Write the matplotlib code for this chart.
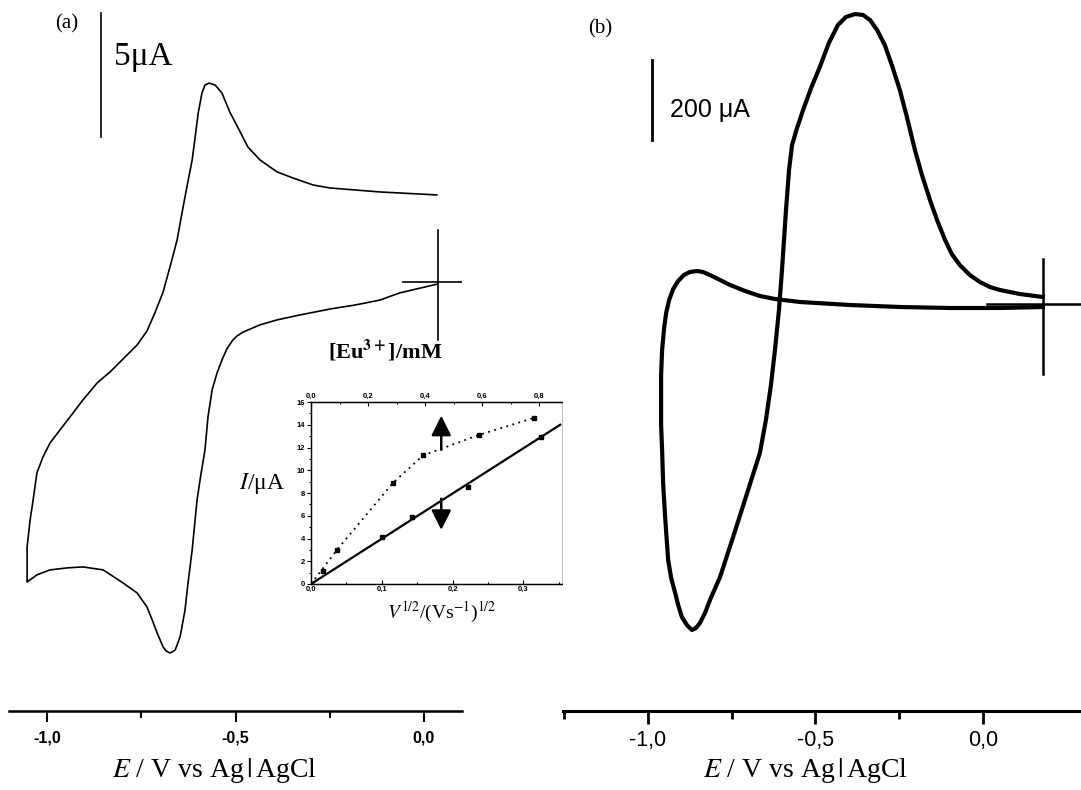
import numpy as np
import matplotlib
matplotlib.use('Agg')
import matplotlib.pyplot as plt
from matplotlib.ticker import FixedLocator, MultipleLocator, FuncFormatter

plt.rcParams['font.family'] = ['Liberation Serif', 'DejaVu Serif']
plt.rcParams['mathtext.fontset'] = 'stix'

# (a) cyclic voltammogram, E in V, I in uA (path order: start -> cathodic -> vertex -> anodic -> end)
E_a = [0.037, -0.064, -0.117, -0.183, -0.249, -0.329, -0.390, -0.435, -0.480, -0.496,
       -0.507, -0.523, -0.536, -0.549, -0.562, -0.573, -0.581, -0.592, -0.602, -0.615,
       -0.626, -0.634, -0.647, -0.660, -0.668, -0.674, -0.684, -0.692, -0.708, -0.721,
       -0.735, -0.761, -0.798, -0.851, -0.905, -0.947, -0.992, -1.027, -1.053,
       -1.053, -1.045, -1.037, -1.027, -1.011, -0.992, -0.966, -0.939, -0.905, -0.867,
       -0.833, -0.798, -0.761, -0.735, -0.714, -0.692, -0.674, -0.655, -0.642, -0.629,
       -0.615, -0.607, -0.599, -0.589, -0.581, -0.570, -0.554, -0.536, -0.515, -0.493,
       -0.467, -0.435, -0.390, -0.347, -0.294, -0.249, -0.117, 0.034]
I_a = [-0.08, -0.44, -0.73, -0.93, -1.09, -1.33, -1.53, -1.73, -2.02, -2.18,
       -2.34, -2.70, -3.15, -3.67, -4.35, -5.44, -6.77, -7.78, -8.79, -10.81,
       -12.14, -13.23, -14.31, -14.84, -14.92, -14.96, -14.88, -14.72, -14.15, -13.63,
       -13.10, -12.54, -12.14, -11.61, -11.49, -11.53, -11.61, -11.81, -12.10,
       -10.69, -9.60, -8.79, -7.70, -7.06, -6.49, -5.97, -5.44, -4.76, -4.07,
       -3.63, -3.10, -2.54, -1.98, -1.25, -0.40, 0.60, 1.69, 2.78, 3.83,
       4.92, 5.85, 6.81, 7.62, 7.94, 8.02, 7.94, 7.62, 6.85, 6.21,
       5.44, 4.92, 4.44, 4.19, 3.91, 3.79, 3.63, 3.51]

# (b) cyclic voltammogram, E in V, I in uA
E_b = [0.179, 0.051, -0.099, -0.248, -0.397, -0.546, -0.621, -0.666, -0.710, -0.755,
       -0.785, -0.815, -0.836, -0.854, -0.875, -0.893, -0.910, -0.925, -0.937, -0.946,
       -0.952, -0.958, -0.961, -0.961, -0.961, -0.958, -0.955, -0.949, -0.940, -0.931,
       -0.919, -0.910, -0.899, -0.884, -0.869, -0.857, -0.845, -0.830, -0.815, -0.785,
       -0.746, -0.704, -0.666, -0.648, -0.633, -0.621, -0.609, -0.600, -0.588, -0.579,
       -0.570, -0.555, -0.537, -0.513, -0.487, -0.460, -0.433, -0.409, -0.382, -0.358,
       -0.337, -0.316, -0.293, -0.272, -0.248, -0.227, -0.203, -0.182, -0.158, -0.137,
       -0.113, -0.093, -0.069, -0.039, -0.009, 0.021, 0.051, 0.110, 0.179]
I_b = [-7.5, -10, -10, -7.5, -2.5, 5, 12.5, 20, 32.5, 47.5,
       60, 72.5, 80, 82.5, 80, 72.5, 57.5, 37.5, 10, -22.5,
       -60, -115, -177.5, -240, -302.5, -365, -447.5, -532.5, -640, -685,
       -722.5, -752.5, -782.5, -802.5, -815, -810, -797.5, -772.5, -740, -682.5,
       -582.5, -472.5, -372.5, -290, -202.5, -115, -15, 85, 235, 335,
       397.5, 440, 485, 540, 592.5, 652.5, 697.5, 717.5, 725, 722.5,
       710, 685, 647.5, 597.5, 535, 467.5, 385, 322.5, 260, 210,
       160, 125, 97.5, 72.5, 55, 42.5, 35, 25, 17.5]

# inset: peak current vs sqrt(scan rate) and vs concentration
v_half = [0.017, 0.100, 0.143, 0.222, 0.325]
I_v = [1.14, 4.13, 5.90, 8.50, 12.90]
v_fit = [0.0, 0.352]
I_fit = [0.0, 14.0]
conc = [0.0, 0.091, 0.288, 0.393, 0.589, 0.782]
I_c = [0.0, 3.0, 8.9, 11.3, 13.1, 14.6]

W, H = 1081, 790
fig = plt.figure(figsize=(W / 100, H / 100), dpi=100)

def comma(v, pos):
    return f'{round(v, 2) + 0:.1f}'.replace('.', ',')

def comma_int(v, pos):
    return f'{int(round(v))}'

# ---------- panel (a) ----------
ax = fig.add_axes([9 / W, 0.1, 453 / W, 0.9])
ax.plot(E_a, I_a, color='k', lw=1.2, solid_joinstyle='round')
ax.set_xlim(-1.101, 0.101)
ax.set_ylim(-17.30, 11.37)
for s in ['left', 'right', 'top']:
    ax.spines[s].set_visible(False)
ax.spines['bottom'].set_linewidth(1.8)
ax.set_yticks([])
ax.xaxis.set_major_locator(FixedLocator([-1.0, -0.5, 0.0]))
ax.xaxis.set_minor_locator(FixedLocator([-0.75, -0.25]))
ax.xaxis.set_major_formatter(FuncFormatter(comma))
ax.tick_params(axis='x', which='major', direction='out', length=8, width=1.5, pad=6,
               labelsize=11.5)
ax.tick_params(axis='x', which='minor', direction='out', length=5, width=1.5)
for t in ax.get_xticklabels():
    t.set_fontfamily('Liberation Sans')
    t.set_fontweight('bold')
# crosshair at start potential
ax.plot([0.037, 0.037], [2.10, -2.34], color='k', lw=1.2)
ax.plot([-0.056, 0.101], [0.0, 0.0], color='k', lw=1.2)
# scale bar 5 uA
ax.plot([-0.857, -0.857], [10.85, 5.85], color='k', lw=1.2)
ax.text(-0.822, 9.1, '5μA', fontsize=24, va='center', ha='left')
fig.text(67 / W, 1 - 24 / H, '(a)', fontsize=15, ha='center', va='center')
fig.text(214 / W, 1 - 777 / H, r'$E$ / V vs Ag$\,|\,$AgCl', fontsize=20, ha='center', va='baseline')

# ---------- inset ----------
axi = fig.add_axes([311 / W, 1 - 584 / H, 252 / W, 182 / H])
axi.plot(v_fit, I_fit, color='k', lw=1.6)
axi.plot(v_half, I_v, 's', color='k', ms=3)
axi.set_xlim(0, 0.356)
axi.set_ylim(0, 16)
axi.xaxis.set_major_locator(MultipleLocator(0.1))
axi.xaxis.set_minor_locator(MultipleLocator(0.05))
axi.xaxis.set_major_formatter(FuncFormatter(comma))
axi.yaxis.set_major_locator(MultipleLocator(2))
axi.yaxis.set_minor_locator(MultipleLocator(1))
axi.yaxis.set_major_formatter(FuncFormatter(comma_int))
axi.tick_params(which='both', labelsize=5.5, width=0.8, pad=1.5)
axi.tick_params(which='major', length=3)
axi.tick_params(which='minor', length=1.5)
axi.tick_params(axis='x', which='both', direction='in')
for s in axi.spines.values():
    s.set_linewidth(1.0)
axt = axi.twiny()
axt.plot(conc, I_c, color='k', lw=1.3, ls=(0, (1, 2.5)), marker='s', ms=3)
axt.set_xlim(0, 0.884)
axt.xaxis.set_major_locator(MultipleLocator(0.2))
axt.xaxis.set_minor_locator(MultipleLocator(0.1))
axt.xaxis.set_major_formatter(FuncFormatter(comma))
axt.tick_params(which='both', direction='in', labelsize=5.5, width=0.8, pad=1.5)
axt.tick_params(which='major', length=3)
axt.tick_params(which='minor', length=1.5)
for a in (axi, axt):
    for t in a.get_xticklabels() + a.get_yticklabels():
        t.set_fontfamily('Liberation Sans')
        t.set_fontweight('bold')
axi.annotate('', xy=(0.184, 14.8), xytext=(0.184, 11.8),
             arrowprops=dict(arrowstyle='-|>,head_width=0.6,head_length=1.2',
                             color='k', lw=1.8, shrinkA=0, shrinkB=0))
axi.annotate('', xy=(0.184, 4.75), xytext=(0.184, 7.5),
             arrowprops=dict(arrowstyle='-|>,head_width=0.6,head_length=1.2',
                             color='k', lw=1.8, shrinkA=0, shrinkB=0))
fig.text(385 / W, 1 - 351 / H, r'[Eu$^{\mathbf{3+}}$]/mM', fontsize=16, fontweight='bold',
         ha='center', va='center')
fig.text(262 / W, 1 - 483 / H, r'$I$/μA', fontsize=17, ha='center', va='center')
fig.text(442 / W, 1 - 612 / H, r'$V^{1/2}$/(Vs$^{-1}$)$^{1/2}$', fontsize=14,
         ha='center', va='center')

# ---------- panel (b) ----------
bx = fig.add_axes([563 / W, 0.1, 518 / W, 0.9])
bx.plot(E_b, I_b, color='k', lw=3.0, solid_joinstyle='round')
bx.set_xlim(-1.254, 0.293)
bx.set_ylim(-1017.5, 760)
for s in ['left', 'right', 'top']:
    bx.spines[s].set_visible(False)
bx.spines['bottom'].set_linewidth(2.2)
bx.set_yticks([])
bx.xaxis.set_major_locator(FixedLocator([-1.0, -0.5, 0.0]))
bx.xaxis.set_minor_locator(FixedLocator([-1.25, -0.75, -0.25]))
bx.xaxis.set_major_formatter(FuncFormatter(comma))
bx.tick_params(axis='x', which='major', direction='out', length=9, width=2, pad=5,
               labelsize=15.5)
bx.tick_params(axis='x', which='minor', direction='out', length=6, width=2)
for t in bx.get_xticklabels():
    t.set_fontfamily('Liberation Sans')
bx.plot([0.179, 0.179], [112.5, -175], color='k', lw=1.8)
bx.plot([0.012, 0.293], [0, 0], color='k', lw=1.8)
bx.plot([-0.988, -0.988], [610, 410], color='k', lw=2.0)
bx.text(-0.934, 485, '200 μA', fontsize=18, va='center', ha='left', family='Liberation Sans')
fig.text(600 / W, 1 - 29 / H, '(b)', fontsize=15, ha='center', va='center')
fig.text(805 / W, 1 - 777 / H, r'$E$ / V vs Ag$\,|\,$AgCl', fontsize=20, ha='center', va='baseline')

fig.savefig('out.png', dpi=100)
